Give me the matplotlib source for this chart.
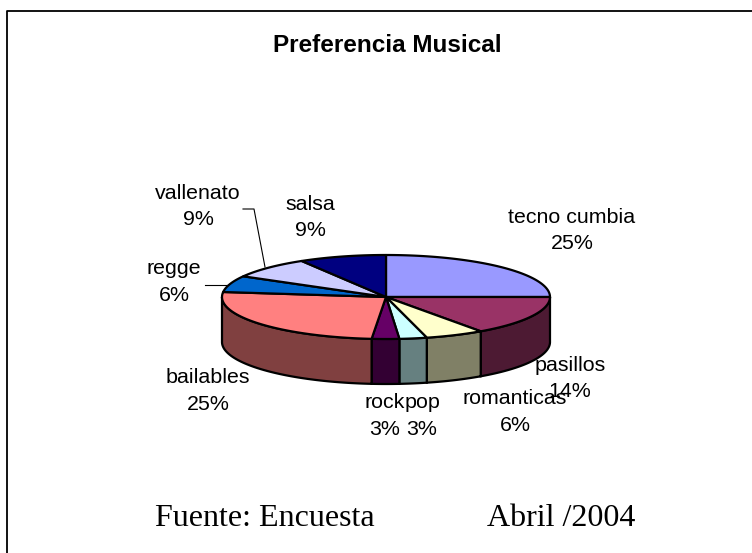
"""Preferencia Musical: tilted 3D-look pie, drawn by hand with polygons."""
import numpy as np
import matplotlib
matplotlib.use('Agg')
import matplotlib.pyplot as plt
from matplotlib.patches import Polygon

categories = ['tecno cumbia', 'pasillos', 'romanticas', 'pop', 'rock',
              'bailables', 'regge', 'vallenato', 'salsa']
# printed percentages
values = [25, 14, 6, 3, 3, 25, 6, 9, 9]
# slice sizes as they look on the tilted pie (perspective shifts them a bit)
shares = [25, 15.2, 5.8, 2.7, 2.7, 25.5, 6.3, 8.2, 8.6]
top_colors = ['#9999FF', '#993366', '#FFFFCC', '#CCFFFF', '#660066',
              '#FF8080', '#0066CC', '#CCCCFF', '#000080']
side_colors = ['#4D4D80', '#4D1A33', '#808066', '#668080', '#330033',
               '#804040', '#003366', '#666680', '#000040']
label_pos = [(572, 230.5), (570, 378.5), (515, 412), (422, 416), (385, 416),
             (208, 391), (174, 282), (198, 206.5), (310, 217.5)]

CX, CY, RX, RY, DEPTH = 386, 297, 164, 42, 45


def ellipse_pts(a0, a1, dy=0):
    # angles are clockwise from the top, in degrees
    t = np.radians(np.linspace(a0, a1, max(int(abs(a1 - a0)) * 2, 2)))
    return np.column_stack([CX + RX * np.sin(t), CY + dy - RY * np.cos(t)])


fig = plt.figure(figsize=(7.52, 5.53), dpi=100)
ax = fig.add_axes([0, 0, 1, 1])
ax.set_xlim(0, 752)
ax.set_ylim(553, 0)
ax.axis('off')

# chart frame, open at the right and bottom edges of the image
ax.plot([752, 7, 7], [11, 11, 553], color='black', lw=1.3)

edges = np.cumsum([0] + shares) / sum(shares) * 360

# rim first, only the front half of the ellipse shows
for i in range(len(shares)):
    a0, a1 = max(edges[i], 90), min(edges[i + 1], 270)
    if a1 <= a0:
        continue
    pts = np.vstack([ellipse_pts(a0, a1), ellipse_pts(a0, a1, DEPTH)[::-1]])
    ax.add_patch(Polygon(pts, closed=True, fc=side_colors[i], ec='black', lw=1.6, zorder=2))

# top face
for i in range(len(shares)):
    pts = np.vstack([[CX, CY], ellipse_pts(edges[i], edges[i + 1])])
    ax.add_patch(Polygon(pts, closed=True, fc=top_colors[i], ec='black', lw=1.6,
                         joinstyle='round', zorder=3))

# leader lines
ax.plot([205, 227], [285, 285], color='black', lw=0.8, zorder=1)
ax.plot([243, 254, 265], [209, 209, 267], color='black', lw=0.8, zorder=1)

for name, val, (x, y) in zip(categories, values, label_pos):
    ax.text(x, y, f'{name}\n{val}%', ha='center', va='center', fontsize=15.4,
            family='Liberation Sans', linespacing=1.48, zorder=5)

ax.text(387, 46, 'Preferencia Musical', ha='center', va='center', fontsize=17.5,
        fontweight='bold', family='Liberation Sans')
ax.text(155, 518, 'Fuente: Encuesta', ha='left', va='center', fontsize=23,
        family='Liberation Serif')
ax.text(487, 518, 'Abril /2004', ha='left', va='center', fontsize=23,
        family='Liberation Serif')

fig.savefig('out.png', dpi=100)
